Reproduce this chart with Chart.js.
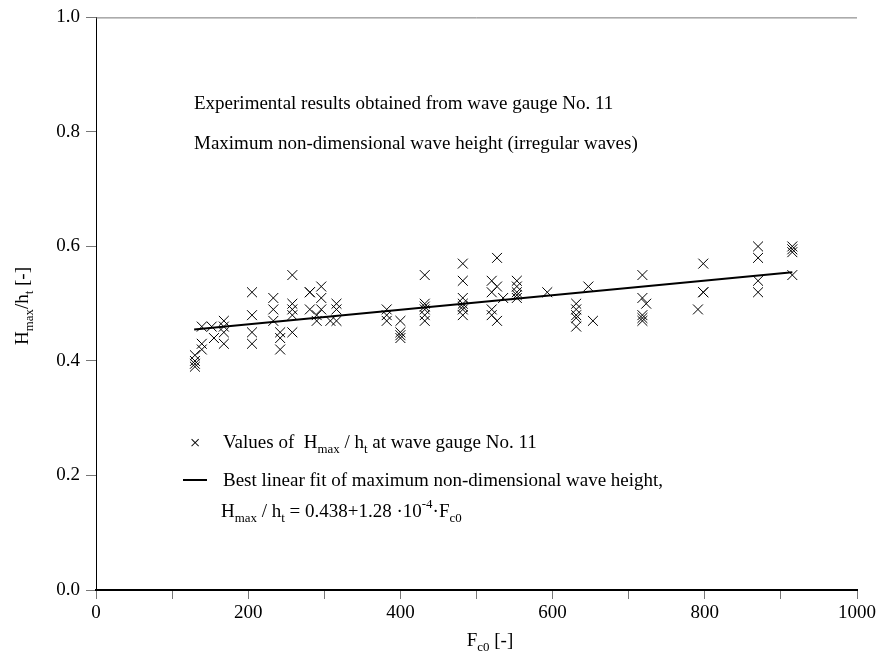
<!DOCTYPE html>
<html>
<head>
<meta charset="utf-8">
<script src="https://cdn.jsdelivr.net/npm/chart.js@4/dist/chart.umd.min.js"></script>
<style>
  body { margin: 0; background: #fff; }
  canvas { display: block; }
</style>
</head>
<body>
<canvas id="chart" width="879" height="660"></canvas>
<script>
// measured points, wave gauge No. 11
const fc0 = [
  130, 130, 130, 130, 139, 139, 139, 152, 155,
  168, 168, 168, 168, 205, 205, 205, 205,
  233, 233, 233, 242, 242, 242,
  258, 258, 258, 258, 258, 281, 281, 281, 290, 290,
  296, 296, 296, 308, 316, 316, 316,
  382, 382, 382, 400, 400, 400, 400,
  432, 432, 432, 432, 432, 432,
  482, 482, 482, 482, 482, 482, 482,
  520, 520, 520, 520, 527, 527, 527, 535,
  553, 553, 553, 553, 553, 593,
  631, 631, 631, 631, 631, 647, 653,
  718, 718, 718, 718, 718, 723, 791, 798, 798, 798,
  870, 870, 870, 870, 915, 915, 915, 915
];
const hmax = [
  0.41, 0.40, 0.395, 0.39, 0.46, 0.43, 0.42, 0.46, 0.44,
  0.47, 0.46, 0.45, 0.43, 0.52, 0.48, 0.45, 0.43,
  0.51, 0.49, 0.47, 0.45, 0.44, 0.42,
  0.55, 0.50, 0.49, 0.48, 0.45, 0.52, 0.52, 0.49, 0.48, 0.47,
  0.53, 0.51, 0.49, 0.47, 0.50, 0.49, 0.47,
  0.49, 0.48, 0.47, 0.47, 0.45, 0.445, 0.44,
  0.55, 0.50, 0.495, 0.49, 0.48, 0.47,
  0.57, 0.54, 0.51, 0.50, 0.495, 0.49, 0.48,
  0.54, 0.52, 0.49, 0.48, 0.58, 0.53, 0.47, 0.51,
  0.54, 0.53, 0.52, 0.515, 0.51, 0.52,
  0.50, 0.49, 0.48, 0.475, 0.46, 0.53, 0.47,
  0.55, 0.51, 0.48, 0.475, 0.47, 0.50, 0.49, 0.57, 0.52, 0.52,
  0.60, 0.58, 0.54, 0.52, 0.60, 0.595, 0.59, 0.55
];

// best linear fit end points
const fitX = [129, 915];
const fitY = [0.455, 0.555];

const xTicks = [0, 200, 400, 600, 800, 1000];
const yTicks = [0.0, 0.2, 0.4, 0.6, 0.8, 1.0];

const FONT = '"Liberation Serif", "Times New Roman", serif';
const TXT = 19;

// draws text with sub/superscript pieces, returns end x
function rich(ctx, x, y, parts, size, dry) {
  for (const [t, k] of parts) {
    const s = k ? size * 0.68 : size;
    ctx.font = s + 'px ' + FONT;
    const dy = k === 'sub' ? size * 0.28 : k === 'sup' ? -size * 0.45 : 0;
    if (!dry) ctx.fillText(t, x, y + dy);
    x += ctx.measureText(t).width;
  }
  return x;
}

const annotate = {
  id: 'annotate',
  afterDraw(chart) {
    const { ctx, chartArea: a } = chart;
    ctx.save();
    ctx.fillStyle = '#000';
    ctx.textBaseline = 'alphabetic';
    ctx.textAlign = 'left';

    // top frame line
    ctx.strokeStyle = '#777';
    ctx.lineWidth = 1;
    ctx.beginPath();
    ctx.moveTo(a.left, a.top + 0.5);
    ctx.lineTo(a.right, a.top + 0.5);
    ctx.stroke();

    // y title
    const yt = [['H'], ['max', 'sub'], ['/h'], ['t', 'sub'], [' [-]']];
    const yw = rich(ctx, 0, 0, yt, TXT, true);
    ctx.save();
    ctx.translate(28, 306);
    ctx.rotate(-Math.PI / 2);
    rich(ctx, -yw / 2, 0, yt, TXT);
    ctx.restore();

    // x title
    const xt = [['F'], ['c0', 'sub'], [' [-]']];
    const xw = rich(ctx, 0, 0, xt, TXT, true);
    rich(ctx, 490 - xw / 2, 646, xt, TXT);

    // notes
    rich(ctx, 194, 109, [['Experimental results obtained from wave gauge No. 11']], TXT);
    rich(ctx, 194, 149, [['Maximum non-dimensional wave height (irregular waves)']], TXT);

    // legend
    ctx.font = TXT + 'px ' + FONT;
    ctx.textAlign = 'center';
    ctx.fillText('\u00d7', 195, 449);
    ctx.textAlign = 'left';
    rich(ctx, 223, 448, [['Values of  H'], ['max', 'sub'], [' / h'], ['t', 'sub'], [' at wave gauge No. 11']], TXT);

    ctx.strokeStyle = '#000';
    ctx.lineWidth = 2;
    ctx.beginPath();
    ctx.moveTo(183, 480);
    ctx.lineTo(207, 480);
    ctx.stroke();
    rich(ctx, 223, 486, [['Best linear fit of maximum non-dimensional wave height,']], TXT);
    rich(ctx, 221, 517, [['H'], ['max', 'sub'], [' / h'], ['t', 'sub'], [' = 0.438+1.28 \u00b710'], ['-4', 'sup'], ['\u00b7F'], ['c0', 'sub']], TXT);

    ctx.restore();
  }
};

new Chart(document.getElementById('chart').getContext('2d'), {
  data: {
    datasets: [
      {
        type: 'scatter',
        label: 'Values of Hmax / ht',
        data: fc0.map((f, i) => ({ x: f, y: hmax[i] })),
        pointStyle: 'crossRot',
        pointRadius: 7,
        pointBorderWidth: 1,
        borderColor: '#000',
        backgroundColor: '#000',
      },
      {
        type: 'line',
        label: 'Best linear fit',
        data: fitX.map((f, i) => ({ x: f, y: fitY[i] })),
        borderColor: '#000',
        borderWidth: 2,
        pointRadius: 0,
        fill: false,
      },
    ],
  },
  options: {
    responsive: false,
    animation: false,
    layout: { padding: { top: 14, right: 22, left: 0, bottom: 0 } },
    plugins: {
      legend: { display: false },
      tooltip: { enabled: false },
    },
    scales: {
      x: {
        type: 'linear',
        min: 0,
        max: 1000,
        afterFit: (s) => { s.height = 70; },
        afterBuildTicks: (s) => {
          s.ticks = [];
          for (let v = 0; v <= 1000; v += 100) s.ticks.push({ value: v });
        },
        ticks: {
          autoSkip: false,
          maxRotation: 0,
          padding: 3,
          color: '#000',
          font: { family: FONT, size: TXT },
          callback: (v) => (xTicks.includes(v) ? String(v) : ''),
        },
        grid: { drawOnChartArea: false, tickLength: 9, tickColor: '#777' },
        border: { color: '#000', width: 2 },
      },
      y: {
        type: 'linear',
        min: 0,
        max: 1,
        afterFit: (s) => { s.width = 96; },
        afterBuildTicks: (s) => { s.ticks = yTicks.map((v) => ({ value: v })); },
        ticks: {
          padding: 6,
          color: '#000',
          font: { family: FONT, size: TXT },
          callback: (v) => v.toFixed(1),
        },
        grid: { drawOnChartArea: false, tickLength: 10, tickColor: '#777' },
        border: { color: '#000', width: 1 },
      },
    },
  },
  plugins: [annotate],
});
</script>
</body>
</html>
